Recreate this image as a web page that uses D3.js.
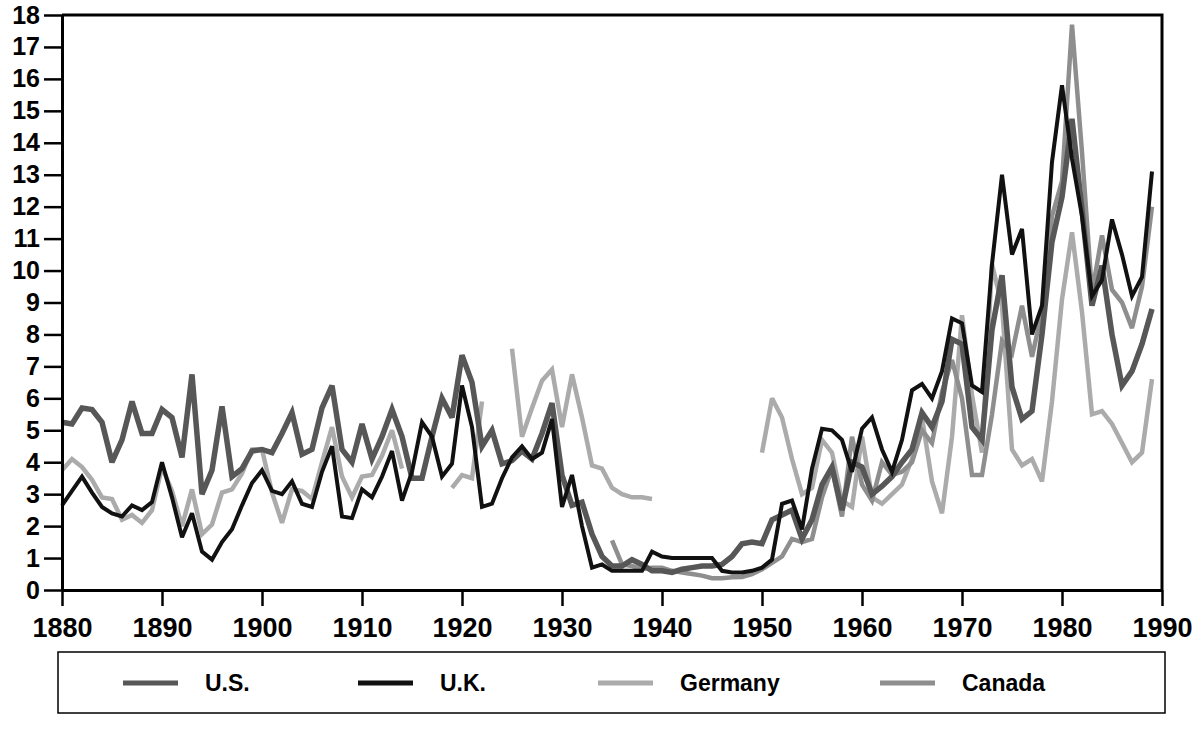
<!DOCTYPE html>
<html>
<head>
<meta charset="utf-8">
<script src="https://cdn.jsdelivr.net/npm/d3@7"></script>
<style>
  body { margin: 0; background: #fff; }
  svg text { font-family: "Liberation Sans", Arial, sans-serif; font-weight: bold; fill: #000; }
</style>
</head>
<body>
<script>
// short-term rates, one value per year 1880..1989 (null = no data)

var years = d3.range(1880, 1990);

var seriesNames = ["U.S.", "U.K.", "Germany", "Canada"];

var usRates = [
  5.25, 5.2, 5.7, 5.65, 5.25, 4.0, 4.7, 5.9, 4.9, 4.9,
  5.65, 5.4, 4.15, 6.75, 3.0, 3.75, 5.75, 3.55, 3.8, 4.35,
  4.4, 4.3, 4.9, 5.55, 4.25, 4.4, 5.7, 6.4, 4.4, 4.0,
  5.2, 4.1, 4.8, 5.65, 4.8, 3.5, 3.5, 4.8, 6.0, 5.4,
  7.35, 6.5, 4.5, 5.0, 3.95, 4.05, 4.35, 4.1, 4.9, 5.85,
  3.6, 2.65, 2.75, 1.75, 1.05, 0.75, 0.75, 0.95, 0.8, 0.6,
  0.6, 0.55, 0.65, 0.7, 0.75, 0.75, 0.8, 1.05, 1.45, 1.5,
  1.45, 2.2, 2.35, 2.5, 1.6, 2.2, 3.3, 3.85, 2.5, 4.0,
  3.85, 3.0, 3.25, 3.55, 4.0, 4.4, 5.55, 5.1, 5.9, 7.85,
  7.7, 5.1, 4.7, 8.15, 9.85, 6.35, 5.35, 5.6, 8.0, 10.9,
  12.3, 14.75, 11.9, 8.9, 10.15, 8.0, 6.4, 6.85, 7.7, 8.8
];

var ukRates = [
  2.65, 3.1, 3.55, 3.05, 2.6, 2.4, 2.3, 2.65, 2.5, 2.75,
  4.0, 2.9, 1.65, 2.4, 1.2, 0.95, 1.5, 1.9, 2.65, 3.35,
  3.75, 3.1, 3.0, 3.4, 2.7, 2.6, 3.7, 4.5, 2.3, 2.25,
  3.15, 2.9, 3.55, 4.35, 2.8, 3.7, 5.25, 4.8, 3.55, 3.95,
  6.4, 5.1, 2.6, 2.7, 3.5, 4.15, 4.5, 4.1, 4.3, 5.35,
  2.6, 3.6, 2.0, 0.7, 0.8, 0.6, 0.6, 0.6, 0.6, 1.2,
  1.05, 1.0, 1.0, 1.0, 1.0, 1.0, 0.6, 0.55, 0.55, 0.6,
  0.7, 0.95, 2.7, 2.8, 1.9, 3.8, 5.05, 5.0, 4.7, 3.7,
  5.05, 5.4, 4.4, 3.7, 4.7, 6.25, 6.45, 6.0, 6.85, 8.5,
  8.35, 6.4, 6.2, 10.2, 13.0, 10.5, 11.3, 8.0, 8.9, 13.4,
  15.8, 13.5, 11.7, 9.2, 9.7, 11.6, 10.5, 9.2, 9.8, 13.1
];

var germanyRates = [
  3.75, 4.1, 3.85, 3.45, 2.9, 2.85, 2.2, 2.35, 2.1, 2.5,
  3.85, 3.1, 2.0, 3.15, 1.75, 2.05, 3.05, 3.15, 3.65, 4.4,
  4.4, 3.05, 2.1, 3.15, 3.1, 2.85, 4.0, 5.1, 3.55, 2.9,
  3.55, 3.6, 4.2, 5.0, 3.8, null, null, null, null, 3.2,
  3.6, 3.5, 5.9, null, null, 7.55, 4.8, 5.7, 6.55, 6.9,
  5.1, 6.75, 5.4, 3.9, 3.8, 3.2, 3.0, 2.9, 2.9, 2.85,
  null, null, null, null, null, null, null, null, null, null,
  4.3, 6.0, 5.4, 4.1, 3.0, 3.2, 4.7, 4.3, 2.8, 2.6,
  4.8, 2.9, 2.7, 3.0, 3.3, 4.1, 5.4, 3.4, 2.4, 4.8,
  8.6, 6.1, 4.3, 10.2, 8.9, 4.4, 3.9, 4.1, 3.4, 5.9,
  9.1, 11.2, 8.7, 5.5, 5.6, 5.2, 4.6, 4.0, 4.3, 6.6
];

var canadaRates = [
  null, null, null, null, null, null, null, null, null, null,
  null, null, null, null, null, null, null, null, null, null,
  null, null, null, null, null, null, null, null, null, null,
  null, null, null, null, null, null, null, null, null, null,
  null, null, null, null, null, null, null, null, null, null,
  null, null, null, null, null, 1.55, 0.8, 0.75, 0.65, 0.7,
  0.7, 0.6, 0.55, 0.5, 0.45, 0.37, 0.37, 0.4, 0.41, 0.5,
  0.65, 0.85, 1.05, 1.6, 1.5, 1.6, 2.9, 3.8, 2.3, 4.8,
  3.3, 2.8, 4.0, 3.6, 3.7, 4.0, 5.0, 4.6, 6.2, 7.2,
  6.0, 3.6, 3.6, 5.5, 7.8, 7.4, 8.9, 7.3, 8.7, 11.7,
  12.8, 17.7, 13.7, 9.3, 11.1, 9.4, 9.0, 8.2, 9.5, 12.0
];

var yTicks = d3.range(0, 19);
var xTicks = [1880, 1890, 1900, 1910, 1920, 1930, 1940, 1950, 1960, 1970, 1980, 1990];

var width = 1201, height = 744;

var svg = d3.select("body").append("svg")
    .attr("width", width)
    .attr("height", height);

var x = d3.scaleLinear().domain([1880, 1990]).range([62, 1162]);
var y = d3.scaleLinear().domain([0, 18]).range([590, 15]);

// line styles per series
var styles = {
  "U.S.":    { color: "#575757", width: 5.5 },
  "U.K.":    { color: "#111111", width: 4 },
  "Germany": { color: "#ababab", width: 4.5 },
  "Canada":  { color: "#8e8e8e", width: 4.5 }
};

var seriesData = {
  "U.S.": usRates,
  "U.K.": ukRates,
  "Germany": germanyRates,
  "Canada": canadaRates
};

var line = d3.line()
    .defined(function(d) { return d.v != null; })
    .x(function(d) { return x(d.year); })
    .y(function(d) { return y(d.v); });

// draw order: light lines underneath, black on top
var drawOrder = ["Germany", "Canada", "U.S.", "U.K."];

drawOrder.forEach(function(name) {
  var pts = years.map(function(yr, i) { return { year: yr, v: seriesData[name][i] }; });
  svg.append("path")
      .datum(pts)
      .attr("d", line)
      .attr("fill", "none")
      .attr("stroke", styles[name].color)
      .attr("stroke-width", styles[name].width)
      .attr("stroke-linejoin", "miter")
      .attr("stroke-miterlimit", 3);
});

// axes
var yAxis = svg.append("g")
    .attr("transform", "translate(62,0)")
    .call(d3.axisLeft(y).tickValues(yTicks).tickSize(18).tickSizeOuter(0).tickPadding(4));

var xAxis = svg.append("g")
    .attr("transform", "translate(0,590)")
    .call(d3.axisBottom(x).tickValues(xTicks).tickFormat(d3.format("d")).tickSize(16).tickSizeOuter(0).tickPadding(12));

[yAxis, xAxis].forEach(function(g) {
  g.select(".domain").attr("stroke", "#000").attr("stroke-width", 3);
  g.selectAll(".tick line").attr("stroke", "#000").attr("stroke-width", 2.5);
  g.selectAll(".tick text")
      .attr("font-weight", "bold")
      .attr("font-family", "Liberation Sans, Arial, sans-serif")
      .attr("fill", "#000");
});
yAxis.selectAll(".tick text").attr("font-size", 25);
xAxis.selectAll(".tick text").attr("font-size", 27);

// top and right frame
svg.append("path")
    .attr("d", "M" + x(1880) + "," + y(18) + "H" + x(1990) + "V" + y(0))
    .attr("fill", "none")
    .attr("stroke", "#000")
    .attr("stroke-width", 3);

// legend box
svg.append("rect")
    .attr("x", 58)
    .attr("y", 652)
    .attr("width", 1107)
    .attr("height", 61)
    .attr("fill", "none")
    .attr("stroke", "#000")
    .attr("stroke-width", 1.5);

var legendX = [123, 358, 598, 880];

seriesNames.forEach(function(name, i) {
  var lx = legendX[i];
  svg.append("line")
      .attr("x1", lx).attr("x2", lx + 55)
      .attr("y1", 683).attr("y2", 683)
      .attr("stroke", styles[name].color)
      .attr("stroke-width", 5);
  svg.append("text")
      .attr("x", lx + 82)
      .attr("y", 691)
      .attr("font-size", 23)
      .text(name);
});
</script>
</body>
</html>
